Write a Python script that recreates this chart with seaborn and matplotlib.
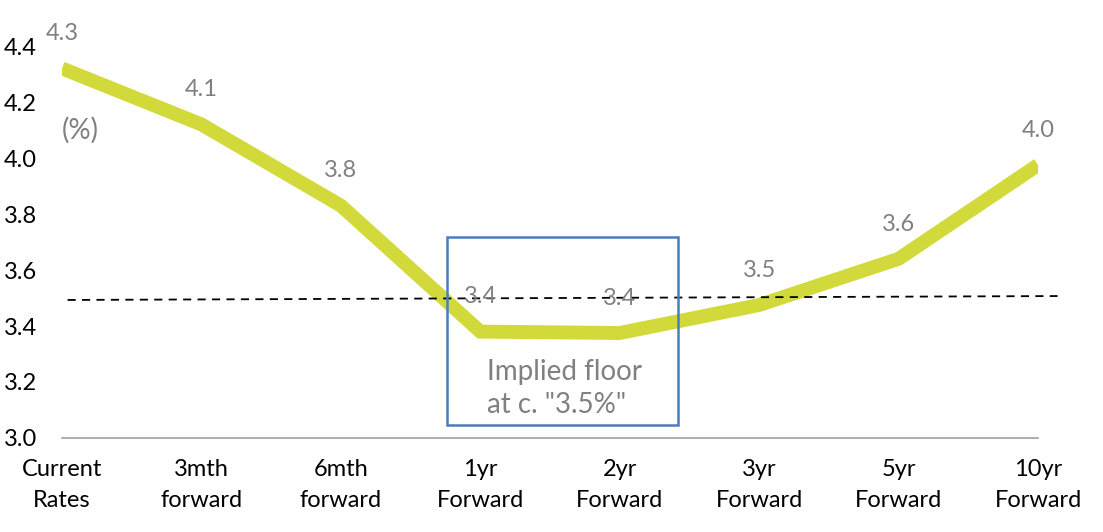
import numpy as np
import pandas as pd
import matplotlib
matplotlib.use('Agg')
import matplotlib.pyplot as plt
import seaborn as sns
from matplotlib.patches import Rectangle

categories = ["Current\nRates", "3mth\nforward", "6mth\nforward", "1yr\nForward",
              "2yr\nForward", "3yr\nForward", "5yr\nForward", "10yr\nForward"]
rates = [4.32, 4.12, 3.83, 3.38, 3.375, 3.475, 3.64, 3.975]
rate_labels = ["4.3", "4.1", "3.8", "3.4", "3.4", "3.5", "3.6", "4.0"]
y_ticks = [3.0, 3.2, 3.4, 3.6, 3.8, 4.0, 4.2, 4.4]

# dashed "floor" guide line, slightly upward
floor_x = [0.04, 7.14]
floor_y = [3.493, 3.507]

# box around the 1yr/2yr trough
box_x = (2.76, 4.42)
box_y = (3.046, 3.718)

sns.set_style("white")
plt.rcParams['font.family'] = ['Lato', 'DejaVu Sans']

df = pd.DataFrame({"tenor": categories, "rate": rates})
pos = np.arange(len(categories))

fig = plt.figure(figsize=(11.03, 5.32), dpi=100)
ax = fig.add_axes([0.0562, 0.1767, 0.8849, 0.7368])

sns.lineplot(data=df, x="tenor", y="rate", sort=False, color="#D2DA3B",
             linewidth=10, ax=ax, solid_capstyle="butt", solid_joinstyle="miter", zorder=2)

ax.plot(floor_x, floor_y, color="black", linestyle=(0, (4.5, 3.5)), linewidth=1.3,
        clip_on=False, zorder=3)

for x, y, lab in zip(pos, rates, rate_labels):
    ax.annotate(lab, (x, y), xytext=(0, 25), textcoords="offset points",
                ha="center", va="center", fontsize=17, color="#808080",
                annotation_clip=False, zorder=4)

ax.add_patch(Rectangle((box_x[0], box_y[0]), box_x[1] - box_x[0], box_y[1] - box_y[0],
                       fill=False, edgecolor="#4A7EBB", linewidth=1.8, clip_on=False, zorder=5))
ax.text(3.05, 3.177, 'Implied floor\nat c. "3.5%"', fontsize=20, color="#808080",
        ha="left", va="center", linespacing=1.35)

ax.text(0.0, 4.1, "(%)", fontsize=20, color="#808080", ha="left", va="center")

ax.set_xlim(0, 7)
ax.set_ylim(3.0, 4.4)
ax.set_yticks(y_ticks)
ax.set_yticklabels([f"{v:.1f}" for v in y_ticks])
ax.set_xticks(pos)
ax.set_xticklabels(categories, linespacing=1.6)
ax.set_xlabel("")
ax.set_ylabel("")

for side in ["top", "right", "left"]:
    ax.spines[side].set_visible(False)
ax.spines["bottom"].set_color("#A0A0A0")
ax.spines["bottom"].set_linewidth(1.2)
ax.tick_params(axis="x", direction="out", length=6, width=1.2, color="#A0A0A0",
               labelsize=17, labelcolor="black", pad=9)
ax.tick_params(axis="y", length=0, labelsize=17, labelcolor="black", pad=18)

fig.savefig("out.png", dpi=100)
